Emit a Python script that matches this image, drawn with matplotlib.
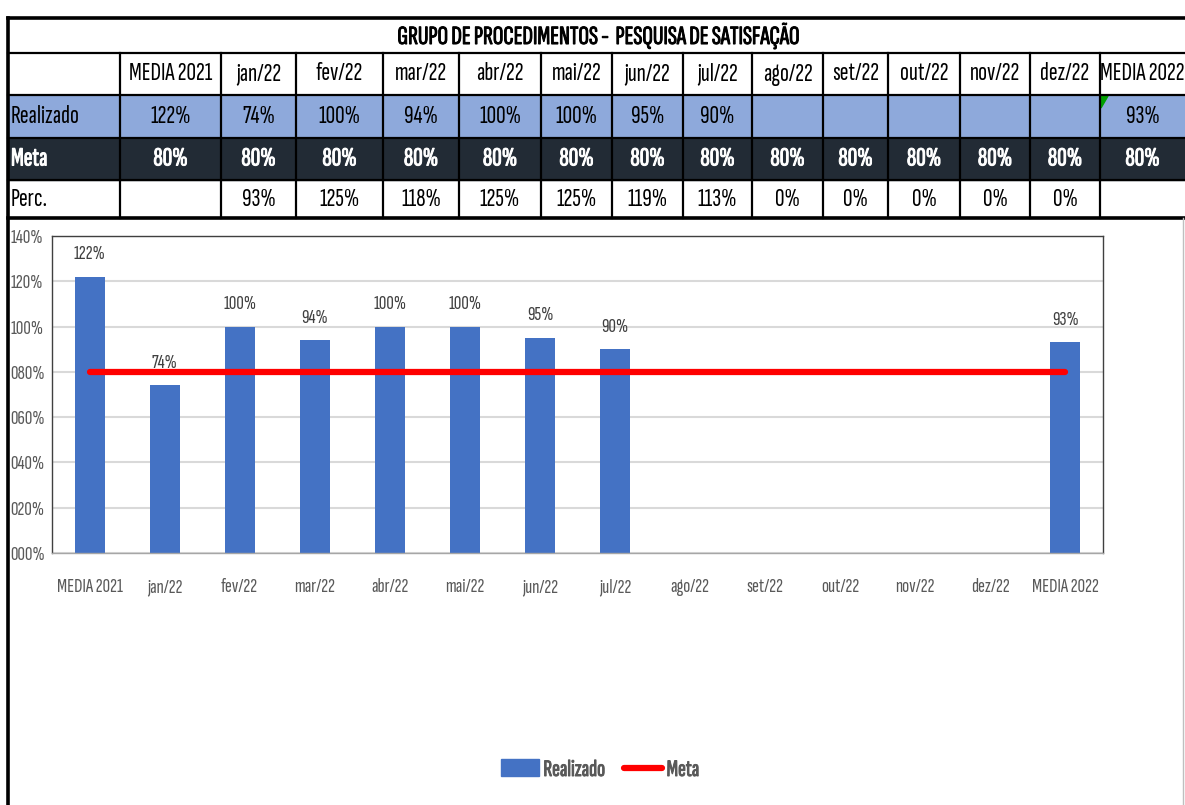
import matplotlib.pyplot as plt
import matplotlib.patches as mpatches
import matplotlib.patheffects as pe
from matplotlib.lines import Line2D

plt.rcParams['font.family'] = ['Sofia Sans Extra Condensed', 'DejaVu Sans']

titulo = 'GRUPO DE PROCEDIMENTOS -  PESQUISA DE SATISFAÇÃO'
categorias = ['MEDIA 2021', 'jan/22', 'fev/22', 'mar/22', 'abr/22', 'mai/22', 'jun/22',
              'jul/22', 'ago/22', 'set/22', 'out/22', 'nov/22', 'dez/22', 'MEDIA 2022']
realizado = [122, 74, 100, 94, 100, 100, 95, 90, None, None, None, None, None, 93]
meta = [80, 80, 80, 80, 80, 80, 80, 80, 80, 80, 80, 80, 80, 80]
perc = [None, 93, 125, 118, 125, 125, 119, 113, 0, 0, 0, 0, 0, None]


def negrito(cor):
    # a fonte so tem peso normal: engrossa com um contorno
    return [pe.withStroke(linewidth=0.7, foreground=cor)]


W, H = 1185, 805
fig = plt.figure(figsize=(W / 100, H / 100), dpi=100)

# tabela no topo, em pixels
bg = fig.add_axes([0, 0, 1, 1])
bg.set_xlim(0, W)
bg.set_ylim(H, 0)
bg.axis('off')

col_edges = [8, 120, 221, 296, 383, 459, 541, 612, 683, 752, 823, 888, 960, 1030, 1100, 1185]
row_edges = [18, 53, 95, 138, 180, 218]

bg.add_patch(mpatches.Rectangle((8, 95), W - 8, 43, color='#8EA9DB', zorder=0))
bg.add_patch(mpatches.Rectangle((8, 138), W - 8, 42, color='#222B35', zorder=0))

for y in row_edges[1:-1]:
    bg.plot([8, W], [y, y], color='black', lw=1.6)
bg.plot([8, W], [18, 18], color='black', lw=2.6)
bg.plot([8, W], [218, 218], color='black', lw=2.6)
bg.plot([8, 8], [18, H], color='black', lw=2.6)
for x in col_edges[1:-1]:
    bg.plot([x, x], [53, 218], color='black', lw=1.6)
bg.plot([1183, 1183], [218, H], color='#BFBFBF', lw=1)
bg.add_patch(mpatches.Polygon([[1101, 96], [1108, 96], [1101, 108]], color='#00A000'))

bg.text(598, 36, titulo, ha='center', va='center', fontsize=19,
        path_effects=negrito('black'))

fs = 19
row_mid = [(row_edges[i] + row_edges[i + 1]) / 2 for i in range(1, 5)]
bg.text(11, row_mid[1], 'Realizado', ha='left', va='center', fontsize=fs)
bg.text(11, row_mid[2], 'Meta', ha='left', va='center', fontsize=fs,
        color='white', path_effects=negrito('white'))
bg.text(11, row_mid[3], 'Perc.', ha='left', va='center', fontsize=fs)
for i, cat in enumerate(categorias):
    cx = (col_edges[i + 1] + col_edges[i + 2]) / 2
    bg.text(cx, row_mid[0], cat, ha='center', va='center', fontsize=fs)
    if realizado[i] is not None:
        bg.text(cx, row_mid[1], f'{realizado[i]}%', ha='center', va='center', fontsize=fs)
    bg.text(cx, row_mid[2], f'{meta[i]}%', ha='center', va='center', fontsize=fs,
            color='white', path_effects=negrito('white'))
    if perc[i] is not None:
        bg.text(cx, row_mid[3], f'{perc[i]}%', ha='center', va='center', fontsize=fs)

# grafico
ax = fig.add_axes([52 / W, 1 - 553 / H, 1051 / W, 317 / H])
xs = list(range(len(categorias)))
alturas = [v if v is not None else 0 for v in realizado]
ax.bar(xs, alturas, width=0.4, color='#4472C4', zorder=2)
ax.plot(xs, meta, color='#FF0000', lw=4.5, solid_capstyle='round', zorder=3)
for x, v in zip(xs, realizado):
    if v is not None:
        ax.text(x, v + 6, f'{v}%', ha='center', va='bottom', fontsize=15, color='#404040')

ax.set_xlim(-0.5, len(categorias) - 0.5)
ax.set_ylim(0, 140)
ax.set_yticks(range(0, 141, 20))
ax.set_yticklabels([f'{v:03d}%' for v in range(0, 141, 20)], fontsize=15, color='#595959',
                   ha='left')
ax.set_xticks(xs)
ax.set_xticklabels(categorias, fontsize=15, color='#595959')
ax.tick_params(length=0, axis='y', pad=30)
ax.tick_params(length=0, axis='x', pad=18)
ax.grid(axis='y', color='#D9D9D9', lw=1.5, zorder=0)
ax.set_axisbelow(True)
for s in ax.spines.values():
    s.set_color('#404040')
    s.set_linewidth(1)
ax.spines['bottom'].set_color('#A6A6A6')

handles = [mpatches.Patch(color='#4472C4', label='Realizado'),
           Line2D([0], [0], color='#FF0000', lw=4.5, solid_capstyle='round', label='Meta')]
leg = fig.legend(handles=handles, loc='center', bbox_to_anchor=(600 / W, 1 - 770 / H), ncol=2,
                 frameon=False, prop={'size': 17}, labelcolor='#595959',
                 handlelength=1.6, handletextpad=0.2, columnspacing=0.8)
for t in leg.get_texts():
    t.set_path_effects(negrito('#595959'))

fig.savefig('out.png', dpi=100)
